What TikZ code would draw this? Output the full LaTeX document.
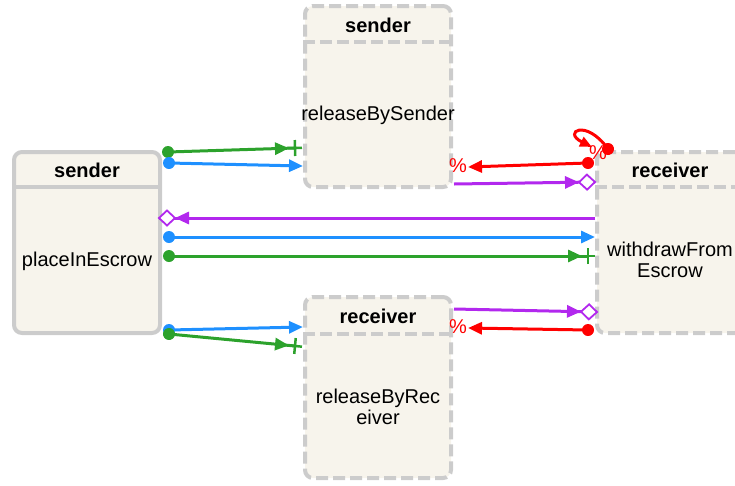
\documentclass[tikz,border=0pt]{standalone}
\usepackage{fontspec}
\setmainfont{Liberation Sans}
\usetikzlibrary{arrows.meta,calc,decorations.markings}
\definecolor{bxline}{RGB}{204,204,204}
\definecolor{bxfill}{RGB}{247,244,236}
\definecolor{cgreen}{RGB}{44,162,44}
\definecolor{cblue}{RGB}{30,144,255}
\definecolor{cpurple}{RGB}{178,40,238}
\definecolor{cred}{RGB}{255,0,0}
\tikzset{
  box/.style={draw=bxline, fill=bxfill, line width=4pt, rounded corners=8pt,
    minimum width=146pt, minimum height=181pt, inner sep=0pt},
  dbox/.style={box, dash pattern=on 12pt off 5pt},
  hdr/.style={font=\fontsize{20}{23}\selectfont\bfseries, inner sep=0pt},
  body/.style={font=\fontsize{20}{21}\selectfont, align=center, inner sep=0pt},
  sep/.style={draw=bxline, line width=4pt},
  conn/.style={line width=3pt},
  tip/.style={-{Triangle[length=14pt,width=12pt]}},
  dotstart/.style={postaction={decorate, decoration={markings,
    mark=at position 0 with {\fill (0,0) circle (6pt);}}}},
  plusend/.style={postaction={decorate, decoration={markings,
    mark=at position -6pt with {\arrow{Triangle[length=14pt,width=12pt]}},
    mark=at position 1 with {\draw[line width=2.5pt] (-7pt,0)--(7pt,0) (0,-8pt)--(0,8pt);}}}},
  diamend/.style={postaction={decorate, decoration={markings,
    mark=at position -16pt with {\arrow{Triangle[length=14pt,width=12pt]}},
    mark=at position 1 with {\draw[line width=1.8pt, fill=white] (0,0)--(-8pt,7.5pt)--(-16pt,0)--(-8pt,-7.5pt)--cycle;}}}},
  pct/.style={text=cred, font=\fontsize{20}{23}\selectfont, inner sep=0pt},
}
\begin{document}
\begin{tikzpicture}[x=1pt,y=-1pt]
\useasboundingbox (0,0) rectangle (735,485);
% boxes
\node[box]  (L) at (87,242.5) {};
\node[dbox] (T) at (378,96.5) {};
\node[dbox] (B) at (378,387.5) {};
\node[dbox] (R) at (670,242.5) {};
\draw[sep] (L.west |- 0,187) -- (L.east |- 0,187);
\draw[sep, dash pattern=on 12pt off 5pt] (T.west |- 0,42) -- (T.east |- 0,42);
\draw[sep, dash pattern=on 12pt off 5pt] (B.west |- 0,334) -- (B.east |- 0,334);
\draw[sep, dash pattern=on 12pt off 5pt] (R.west |- 0,187) -- (R.east |- 0,187);
% texts
\node[hdr] (Lh) at (87,170) {sender};
\node[body] (Lb) at (87,261) {placeInEscrow};
\node[hdr] (Th) at (378,25) {sender};
\node[body] (Tb) at (378,115) {releaseBySender};
\node[hdr] (Bh) at (378,316) {receiver};
\node[body] (Bb) at (378,407) {releaseByRec\\eiver};
\node[hdr] (Rh) at (670,170) {receiver};
\node[body] (Rb) at (670,260) {withdrawFrom\\Escrow};
% connectors
\draw[conn, cgreen, dotstart, plusend] ($(L.east |- 0,152)+(6,0)$) -- ($(T.west |- 0,148)+(-8,0)$);
\draw[conn, cblue, dotstart, tip] ($(L.east |- 0,163)+(7,0)$) -- (T.west |- 0,166);
\draw[conn, cpurple, diamend] (R.west |- 0,218) -- ($(L.east |- 0,218)+(-3,0)$);
\draw[conn, cblue, dotstart, tip] ($(L.east |- 0,237)+(7,0)$) -- (R.west |- 0,237);
\draw[conn, cgreen, dotstart, plusend] ($(L.east |- 0,256)+(7,0)$) -- ($(R.west |- 0,256)+(-7,0)$);
\draw[conn, cblue, dotstart, tip] ($(L.east |- 0,330)+(7,0)$) -- (B.west |- 0,327);
\draw[conn, cgreen, dotstart, plusend] ($(L.east |- 0,334)+(7,0)$) -- ($(B.west |- 0,346)+(-8,0)$);
\draw[conn, cred, dotstart, tip] ($(R.west |- 0,163)+(-7,0)$) -- ($(T.east |- 0,167)+(15,0)$);
\node[pct] (p1) at (458,166) {\%};
\draw[conn, cpurple, diamend] ($(T.east |- 0,184)+(1,0)$) -- (R.west |- 0,182);
\draw[conn, cpurple, diamend] ($(B.east |- 0,309)+(1,0)$) -- ($(R.west |- 0,312)+(2,0)$);
\draw[conn, cred, dotstart, tip] ($(R.west |- 0,330)+(-7,0)$) -- ($(B.east |- 0,328)+(15,0)$);
\node[pct] (p2) at (458,327) {\%};
% self loop
\draw[conn, cred, dotstart, -{Triangle[length=12pt,width=10pt]}] ($(R.north west)+(13,-1)$) .. controls (586,118) and (562,132) .. (592,147);
\node[pct] (p3) at (598,153) {\%};
\end{tikzpicture}
\end{document}
